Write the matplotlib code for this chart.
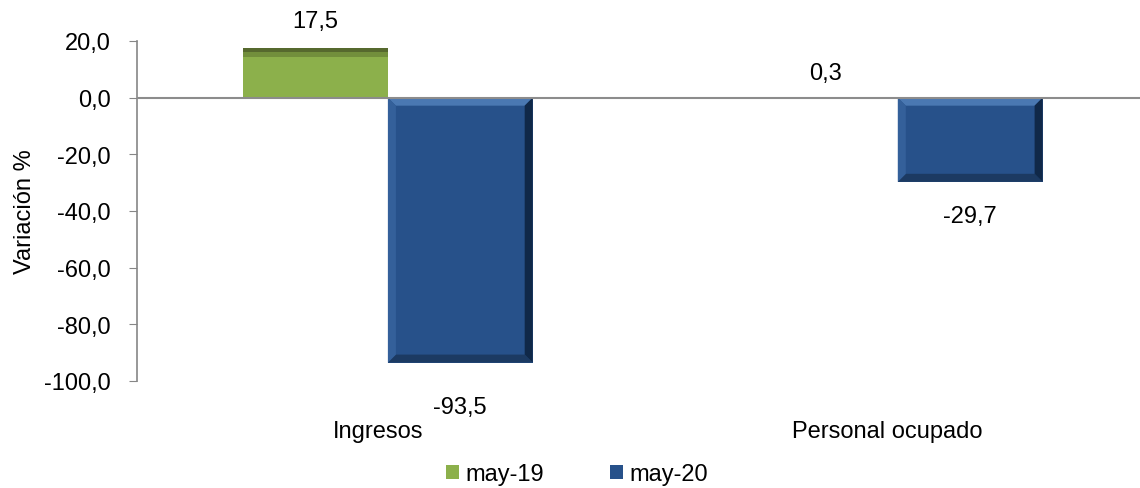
import matplotlib
matplotlib.use("Agg")
import matplotlib.pyplot as plt
from matplotlib.patches import Polygon
import numpy as np

categories = ["Ingresos", "Personal ocupado"]
series_names = ["may-19", "may-20"]
may19 = [17.5, 0.3]
may20 = [-93.5, -29.7]
yticks = [20, 0, -20, -40, -60, -80, -100]

plt.rcParams['font.family'] = ['Liberation Sans', 'DejaVu Sans']
FS = 17

W, H = 1140, 489
fig = plt.figure(figsize=(W/100, H/100), dpi=100)
left, right = 137/W, 1.0
bottom, top = 1 - 382/H, 1 - 42/H
ax = fig.add_axes([left, bottom, right-left, top-bottom])

x = np.arange(len(categories))
bw = 0.284
green = "#8cb04b"
blue = "#27518a"
b1 = ax.bar(x - bw/2, may19, bw, color=green, zorder=2, label=series_names[0])
b2 = ax.bar(x + bw/2, may20, bw, color=blue, zorder=2, label=series_names[1])

ax.set_xlim(-0.492, 1.475)
ax.set_ylim(-100, 20)

# bevel effect
px_x = 1/510.0
px_y = 120/340.0
def bevel(rect, light, dark, top_c, bot_c, s=8):
    x0, y0 = rect.get_x(), rect.get_y()
    w, h = rect.get_width(), rect.get_height()
    x1 = x0 + w
    ylo, yhi = min(y0, y0+h), max(y0, y0+h)
    dx, dy = s*px_x, s*px_y
    if (yhi - ylo) < 2*dy:
        return
    ax.add_patch(Polygon([(x0, yhi), (x1, yhi), (x1-dx, yhi-dy), (x0+dx, yhi-dy)], closed=True, color=top_c, lw=0, zorder=3))
    ax.add_patch(Polygon([(x0, ylo), (x1, ylo), (x1-dx, ylo+dy), (x0+dx, ylo+dy)], closed=True, color=bot_c, lw=0, zorder=3))
    ax.add_patch(Polygon([(x0, ylo), (x0, yhi), (x0+dx, yhi-dy), (x0+dx, ylo+dy)], closed=True, color=light, lw=0, zorder=3))
    ax.add_patch(Polygon([(x1, ylo), (x1, yhi), (x1-dx, yhi-dy), (x1-dx, ylo+dy)], closed=True, color=dark, lw=0, zorder=3))

for r in b2:
    bevel(r, "#34609a", "#102848", "#4a78b2", "#1c3a62")
for r in b1:
    x0, h = r.get_x(), r.get_height()
    if h > 3:
        ax.add_patch(Polygon([(x0, h), (x0+bw, h), (x0+bw, h-4*px_y), (x0, h-4*px_y)], closed=True, color="#56692e", lw=0, zorder=3))
        ax.add_patch(Polygon([(x0, h-4*px_y), (x0+bw, h-4*px_y), (x0+bw, h-9*px_y), (x0, h-9*px_y)], closed=True, color="#728f3c", lw=0, zorder=3))

ax.axhline(0, color="#8c8c8c", lw=1.5, zorder=4)

for s in ["top", "right", "bottom"]:
    ax.spines[s].set_visible(False)
ax.spines["left"].set_color("#868686")
ax.spines["left"].set_linewidth(1.2)
ax.set_yticks(yticks)
ax.set_yticklabels([f"{v:.1f}".replace(".", ",") for v in yticks], fontsize=FS)
ax.tick_params(axis="y", direction="out", length=6, color="#868686", pad=13)
ax.set_xticks([])
ax.set_ylabel("Variación %", fontsize=FS, labelpad=6)

trans = ax.get_xaxis_transform()
for xi, c in zip(x, categories):
    ax.text(xi - 0.02, -0.147, c, transform=trans, ha="center", va="center", fontsize=FS)

def fmt(v):
    return f"{v:.1f}".replace(".", ",")

offs19 = [27, 24]
offs20 = [-44, -34]
for r, v, o in zip(b1, may19, offs19):
    ax.annotate(fmt(v), (r.get_x()+bw/2, v), xytext=(0, o), textcoords="offset pixels", ha="center", va="center", fontsize=FS)
for r, v, o in zip(b2, may20, offs20):
    ax.annotate(fmt(v), (r.get_x()+bw/2, v), xytext=(0, o), textcoords="offset pixels", ha="center", va="center", fontsize=FS)

leg = fig.legend(handles=[b1, b2], labels=series_names, loc="center", bbox_to_anchor=(577/W, 1-475/H),
                 ncol=2, frameon=False, fontsize=FS, handlelength=0.55, handleheight=0.55,
                 handletextpad=0.25, columnspacing=2.8)

fig.savefig("out.png", dpi=100)
